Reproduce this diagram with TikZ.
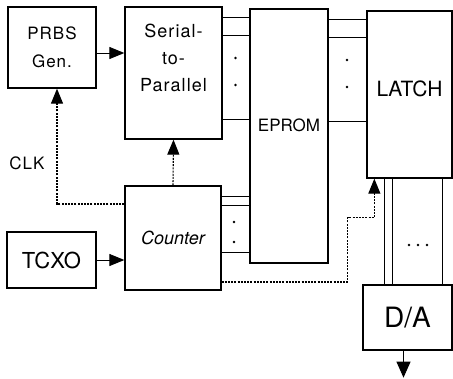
\documentclass[tikz,border=0pt]{standalone}
\usepackage{fontspec}
\setmainfont{TeX Gyre Heros}
\newfontfamily\spacedfont[LetterSpace=6]{TeX Gyre Heros}
\usetikzlibrary{shapes,arrows,arrows.meta,positioning,calc}

\begin{document}
\begin{tikzpicture}[x=1pt, y=-1pt,
        block/.style={draw, line width=1.3pt, inner sep=0pt, align=center},
        bus/.style={draw, line width=0.8pt},
        sig/.style={draw, line width=1pt, -{Triangle[length=15pt, width=12pt]}},
        clk/.style={sig, line width=1.1pt, dash pattern=on 2pt off 1.2pt},
        busdot/.style={fill=black}
    ]
        \useasboundingbox (0,0) rectangle (453,378);

        % Blocks
        \node (prbs) [block, minimum width=88pt, minimum height=81pt, font=\spacedfont\fontsize{17}{28}\selectfont] at (52,47.5) {PRBS\\Gen.};
        \node (serial) [block, minimum width=97pt, minimum height=132pt,
            label={[font=\spacedfont\fontsize{18}{27}\selectfont, align=center, yshift=15pt]center:Serial-\\to-\\Parallel}] at (173.5,73) {};
        \node (eprom) [block, minimum width=78pt, minimum height=254pt,
            label={[font=\fontsize{17}{20}\selectfont, yshift=11pt]center:EPROM}] at (289,136) {};
        \node (latch) [block, minimum width=85pt, minimum height=167pt,
            label={[font=\fontsize{21}{24}\selectfont, yshift=6pt]center:LATCH}] at (409.5,94.5) {};
        \node (counter) [block, minimum width=96pt, minimum height=104pt, font=\itshape\fontsize{18}{20}\selectfont] at (173,238) {Counter};
        \node (tcxo) [block, minimum width=89pt, minimum height=56pt, font=\fontsize{22}{24}\selectfont] at (51.5,260) {TCXO};
        \node (da) [block, minimum width=89pt, minimum height=65pt, font=\fontsize{28}{30}\selectfont] at (407.5,317.5) {D/A};
        \node (clklbl) [font=\spacedfont\fontsize{17}{20}\selectfont] at (27,163) {CLK};

        % Signal arrows
        \draw [sig] ($(prbs.east)+(0,5.5)$) coordinate (p1) -- (p1 -| serial.west);
        \draw [sig] (tcxo.east) -- (tcxo.east -| counter.west);
        \coordinate (aout) at ($(da.south)+(-4,27)$);
        \draw [sig, -{Triangle[length=16pt, width=14pt]}] (da.south -| aout) -- (aout);

        % Buses
        \foreach \dy in {11,29,113} {
            \draw [bus] ($(serial.north east)+(0,\dy)$) coordinate (b) -- (b -| eprom.west);
            \draw [bus] ($(eprom.north east)+(0,\dy)$) coordinate (b) -- (b -| latch.west);
        }
        \foreach \dy in {11,20,67}
            \draw [bus] ($(counter.north east)+(0,\dy)$) coordinate (b) -- (b -| eprom.west);
        \foreach \dx in {18,26,76}
            \draw [bus] ($(latch.south west)+(\dx,0)$) coordinate (b) -- (b |- da.north);

        % Bus dots
        \foreach \y in {58,85} \fill [busdot] (235.5,\y) circle (1.3pt);
        \foreach \y in {60,87} \fill [busdot] (347,\y) circle (1.3pt);
        \foreach \y in {222,242} \fill [busdot] (234,\y) circle (1.3pt);
        \foreach \x in {409,418,427} \fill [busdot] (\x,245) circle (1.3pt);

        % Clock lines
        \draw [clk] ($(counter.west)+(0,-34)$) -| ($(prbs.south)+(5,0)$);
        \draw [clk] (counter.north) -- (serial.south);
        \draw [clk] ($(counter.east)+(0,44)$) -| ($(eprom.south east)+(19,-46)$) -| ($(latch.south west)+(8,0)$);

    \end{tikzpicture}
\end{document}
